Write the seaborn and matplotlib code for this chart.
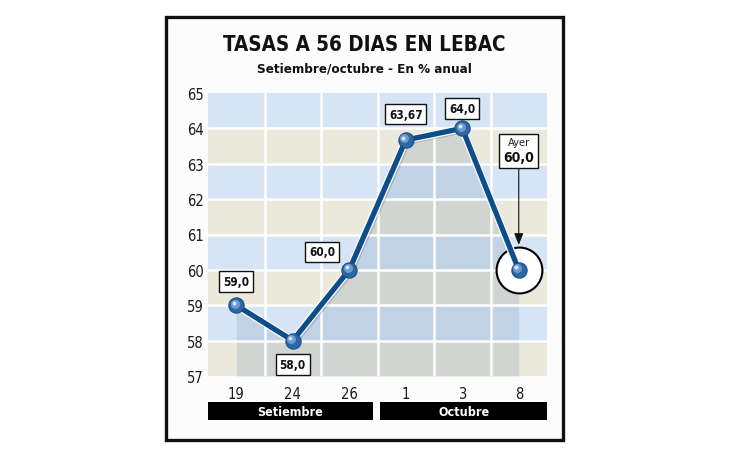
import numpy as np
import pandas as pd
import matplotlib
matplotlib.use("Agg")
import matplotlib.pyplot as plt
import matplotlib.patheffects as pe
import matplotlib.transforms as mtrans
from matplotlib.patches import Rectangle
from matplotlib.offsetbox import TextArea, VPacker, AnnotationBbox
import seaborn as sns

# ---- data ----
dates = ["19", "24", "26", "1", "3", "8"]
values = [59.0, 58.0, 60.0, 63.67, 64.0, 60.0]
value_labels = ["59,0", "58,0", "60,0", "63,67", "64,0", "60,0"]
months = ["Setiembre", "Octubre"]
month_spans = [(0, 2), (3, 5)]          # index range of dates per month
yticks = [57, 58, 59, 60, 61, 62, 63, 64, 65]
title = "TASAS A 56 DIAS EN LEBAC"
subtitle = "Setiembre/octubre - En % anual"

sns.set_style("white")
plt.rcParams["font.family"] = ["DejaVu Sans"]
plt.rcParams["font.stretch"] = "condensed"

df = pd.DataFrame({"pos": np.arange(len(dates)), "tasa": values})

W, H = 730, 460
fig = plt.figure(figsize=(W / 100, H / 100), dpi=100)
fig.patch.set_facecolor("white")

# outer frame
frame = Rectangle((166 / W, 1 - 441 / H), (563 - 166) / W, (441 - 18) / H,
                  transform=fig.transFigure, facecolor="#fbfcfb",
                  edgecolor="#111111", linewidth=2.4, zorder=-1)
fig.patches.append(frame)

ax = fig.add_axes([208 / W, 1 - 377 / H, (547 - 208) / W, (377 - 94) / H])
ax.set_zorder(1)
ax.set_xlim(-0.5, len(dates) - 0.5)
ax.set_ylim(yticks[0], yticks[-1])

blue_bg = "#d5e5f5"
beige_bg = "#ebe9dc"
for y0 in yticks[:-1]:
    ax.axhspan(y0, y0 + 1, color=blue_bg if y0 % 2 == 0 else beige_bg, lw=0, zorder=0)

# area under the line
ax.fill_between(df["pos"], df["tasa"], yticks[0], color="#4f6f98", alpha=0.16,
                lw=0, zorder=1)

# white grid
for y0 in yticks[1:-1]:
    ax.axhline(y0, color="white", lw=1.8, zorder=2)
for i in range(len(dates) - 1):
    ax.axvline(i + 0.5, color="white", lw=1.8, zorder=2)

# highlight circle on last point
ax.scatter([df["pos"].iloc[-1]], [df["tasa"].iloc[-1]], s=33 ** 2,
           facecolor="white", edgecolor="black", linewidth=1.5, zorder=3)

# main line
sns.lineplot(data=df, x="pos", y="tasa", ax=ax, color="#0d4d8a", lw=3.8,
             zorder=4, legend=False,
             path_effects=[pe.SimpleLineShadow(offset=(1.5, -1.5), alpha=0.15),
                           pe.Stroke(linewidth=5.6, foreground="white"),
                           pe.Normal()])

# spherical markers
ax.plot(df["pos"], df["tasa"], ls="none", marker="o", ms=11, mfc="#2d67a6",
        mec="#1c4f86", mew=0.8, zorder=5)
hl1 = mtrans.offset_copy(ax.transData, fig=fig, x=-1.2, y=1.2, units="points")
ax.plot(df["pos"], df["tasa"], ls="none", marker="o", ms=6.5, mfc="#6d9bcf",
        mec="none", zorder=6, transform=hl1)
hl2 = mtrans.offset_copy(ax.transData, fig=fig, x=-1.8, y=1.8, units="points")
ax.plot(df["pos"], df["tasa"], ls="none", marker="o", ms=2.8, mfc="#d9e6f4",
        mec="none", zorder=7, transform=hl2)

# value labels (pixel offsets)
offsets = [(0, 24), (0, -24), (-27, 18), (0, 26), (0, 20)]
for i, (dx, dy) in enumerate(offsets):
    ax.annotate(value_labels[i], (df["pos"].iloc[i], df["tasa"].iloc[i]),
                xytext=(dx * 0.72, dy * 0.72), textcoords="offset points",
                ha="center", va="center", fontsize=8.5, fontweight="bold",
                color="#111111", zorder=8,
                bbox=dict(boxstyle="square,pad=0.32", fc="white", ec="#111111", lw=1.0))

# "Ayer" box with arrow
ayer = VPacker(children=[TextArea("Ayer", textprops=dict(fontsize=8, color="#222222")),
                         TextArea(value_labels[-1], textprops=dict(fontsize=10, fontweight="bold",
                                                                   color="#111111"))],
               align="center", pad=0, sep=2)
ab = AnnotationBbox(ayer, (df["pos"].iloc[-1], df["tasa"].iloc[-1]),
                    xybox=(0, 119 * 0.72), boxcoords="offset points",
                    frameon=True, pad=0.28,
                    bboxprops=dict(fc="white", ec="#111111", lw=1.0),
                    arrowprops=dict(arrowstyle="-|>,head_length=0.5,head_width=0.2",
                                    color="#111111", lw=0.8, shrinkA=0, shrinkB=18),
                    zorder=8)
ax.add_artist(ab)

# axes styling
for s in ax.spines.values():
    s.set_visible(False)
ax.set_xticks(df["pos"])
ax.set_xticklabels(dates)
ax.set_yticks(yticks)
ax.set_yticklabels([str(t) for t in yticks])
ax.tick_params(axis="both", length=0, labelsize=10.5, colors="#1a1a1a")
ax.tick_params(axis="y", pad=3)
ax.tick_params(axis="x", pad=7)
ax.set_xlabel("")
ax.set_ylabel("")

# month bars
xt = ax.get_xaxis_transform()
bar_y0 = (377 - 421) / (377 - 94)
bar_h = (421 - 403) / (377 - 94)
for (a, b), m in zip(month_spans, months):
    left = a - 0.5 if a == 0 else a - 0.45
    right = b + 0.5 if b == len(dates) - 1 else b + 0.42
    ax.add_patch(Rectangle((left, bar_y0), right - left, bar_h, transform=xt,
                           facecolor="black", edgecolor="none", clip_on=False))
    ax.text((left + right) / 2, bar_y0 + bar_h / 2, m, transform=xt, ha="center",
            va="center", color="white", fontsize=9, fontweight="bold")

fig.text(0.499, 1 - 45 / H, title, ha="center", va="center", fontsize=14.8,
         fontweight="bold", color="#111111")
fig.text(0.499, 1 - 69 / H, subtitle, ha="center", va="center", fontsize=9.6,
         fontweight="bold", color="#111111")

fig.savefig("out.png", dpi=100)
